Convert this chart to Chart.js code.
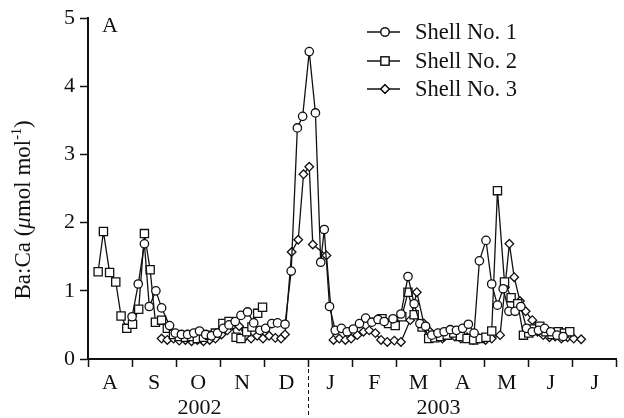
<!DOCTYPE html>
<html><head><meta charset="utf-8">
<script src="https://cdn.jsdelivr.net/npm/chart.js@4"></script>
<style>html,body{margin:0;padding:0;background:#fff}#wrap{width:624px;height:418px}</style>
</head><body><div id="wrap"><canvas id="c" width="624" height="418"></canvas></div>
<script>
// x values: months since 1 Aug 2002
const monthLabels = ['A','S','O','N','D','J','F','M','A','M','J','J'];
const yearLabels = ['2002','2003'];
const yearPositions = [2.53, 7.95];
const yearBoundary = 5;
const yTicks = [0,1,2,3,4,5];
const seriesNames = ['Shell No. 1','Shell No. 2','Shell No. 3'];
const yTitleParts = [['Ba:Ca (', 'n'], ['μ', 'i'], ['mol mol', 'n'], ['-1', 's'], [')', 'n']];

const shell1X = [1.00,1.14,1.28,1.39,1.54,1.67,1.85,1.98,2.12,2.26,2.40,2.53,2.67,2.80,2.94,3.07,3.20,3.34,3.47,3.62,3.76,3.90,4.03,4.17,4.30,4.47,4.61,4.75,4.87,5.02,5.16,5.28,5.36,5.48,5.61,5.75,5.88,6.02,6.16,6.30,6.44,6.58,6.72,6.92,7.10,7.26,7.40,7.53,7.66,7.80,7.94,8.08,8.22,8.36,8.50,8.63,8.76,8.88,9.03,9.16,9.29,9.42,9.55,9.69,9.82,9.95,10.08,10.22,10.36,10.50,10.64,10.78];
const shell1Y = [0.62,1.10,1.69,0.77,1.00,0.75,0.49,0.38,0.36,0.36,0.38,0.41,0.36,0.34,0.38,0.45,0.50,0.55,0.64,0.69,0.53,0.42,0.45,0.52,0.53,0.51,1.29,3.39,3.56,4.51,3.61,1.42,1.90,0.77,0.42,0.45,0.40,0.44,0.52,0.60,0.54,0.58,0.55,0.59,0.66,1.21,0.81,0.52,0.48,0.35,0.38,0.40,0.43,0.42,0.45,0.51,0.38,1.44,1.74,1.10,0.79,1.03,0.70,0.70,0.77,0.45,0.40,0.42,0.45,0.40,0.35,0.33];

const shell2X = [0.23,0.35,0.49,0.63,0.75,0.88,1.01,1.15,1.28,1.41,1.53,1.67,1.80,1.94,2.07,2.21,2.35,2.48,2.62,2.76,2.89,3.06,3.20,3.36,3.47,3.60,3.72,3.85,3.96,5.00,6.67,6.82,6.97,7.12,7.26,7.40,7.58,7.73,7.87,8.00,8.15,8.30,8.45,8.60,8.75,8.90,9.03,9.16,9.29,9.45,9.60,9.75,9.88,10.00,10.12,10.25,10.39,10.53,10.67,10.81,10.93];
const shell2Y = [1.28,1.87,1.27,1.13,0.63,0.45,0.51,0.73,1.84,1.31,0.54,0.57,0.45,0.36,0.33,0.32,0.33,0.30,0.32,0.35,0.38,0.52,0.55,0.32,0.30,0.40,0.47,0.67,0.76,null,0.59,0.52,0.49,0.62,0.98,0.65,0.47,0.30,0.31,0.33,0.35,0.38,0.33,0.30,0.28,0.30,0.32,0.41,2.47,1.13,0.90,0.81,0.35,0.38,0.44,0.48,0.40,0.36,0.40,0.38,0.40];

const shell3X = [1.67,1.80,1.94,2.07,2.21,2.35,2.48,2.62,2.76,2.89,3.03,3.16,3.30,3.43,3.57,3.70,3.84,3.97,4.11,4.25,4.38,4.47,4.62,4.77,4.89,5.02,5.10,5.41,5.57,5.70,5.84,5.97,6.11,6.25,6.38,6.52,6.65,6.79,6.95,7.10,7.31,7.46,7.62,7.76,7.90,8.04,8.18,8.32,8.46,8.60,8.74,8.88,9.02,9.16,9.35,9.46,9.56,9.67,9.80,9.93,10.08,10.20,10.33,10.47,10.60,10.74,10.88,11.02,11.19];
const shell3Y = [0.30,0.28,0.30,0.27,0.28,0.26,0.28,0.26,0.28,0.30,0.36,0.42,0.50,0.48,0.33,0.30,0.34,0.30,0.34,0.31,0.30,0.36,1.57,1.75,2.71,2.82,1.68,1.52,0.28,0.30,0.28,0.30,0.35,0.40,0.42,0.38,0.28,0.25,0.27,0.25,0.57,0.98,0.52,0.40,0.33,0.30,0.35,0.33,0.30,0.32,0.28,0.30,0.28,0.30,0.35,1.05,1.69,1.20,0.85,0.70,0.57,0.40,0.35,0.32,0.33,0.30,0.32,0.30,0.29];

const FONT = 'Liberation Serif, "Times New Roman", serif';
const FS = 22;
const toPts = (xs, ys) => xs.map((x, i) => ({x: x, y: ys[i]}));

const styleFor = (style, r) => ({
  borderColor: '#111', backgroundColor: '#fff', borderWidth: 1.3,
  pointStyle: style, pointRadius: r, pointBorderWidth: 1.3,
  pointBackgroundColor: '#fff', pointBorderColor: '#111',
  tension: 0, spanGaps: false, fill: false
});

const extras = {
  id: 'extras',
  afterDraw(chart) {
    const ctx = chart.ctx;
    const xs = chart.scales.x;
    ctx.save();
    // year boundary dashed line
    const px = Math.round(xs.getPixelForValue(yearBoundary)) + 0.5;
    ctx.strokeStyle = '#111'; ctx.lineWidth = 1; ctx.setLineDash([4, 3]);
    ctx.beginPath(); ctx.moveTo(px, xs.top + 3); ctx.lineTo(px, chart.height); ctx.stroke();
    ctx.setLineDash([]);
    // panel label
    ctx.fillStyle = '#111'; ctx.font = FS + 'px ' + FONT;
    ctx.textAlign = 'left'; ctx.textBaseline = 'middle';
    ctx.fillText('A', 102, 26);
    // y-axis title with italic mu and superscript
    const fonts = {n: '23px ' + FONT, i: 'italic 23px ' + FONT, s: '14px ' + FONT};
    let total = 0;
    yTitleParts.forEach(p => { ctx.font = fonts[p[1]]; total += ctx.measureText(p[0]).width; });
    ctx.save();
    ctx.translate(30, 210);
    ctx.rotate(-Math.PI / 2);
    ctx.textAlign = 'left'; ctx.textBaseline = 'alphabetic';
    let cx = -total / 2;
    yTitleParts.forEach(p => {
      ctx.font = fonts[p[1]];
      ctx.fillText(p[0], cx, p[1] === 's' ? -9 : 0);
      cx += ctx.measureText(p[0]).width;
    });
    ctx.restore();
    // legend
    const rows = [32, 61, 89];
    chart.data.datasets.forEach((ds, i) => {
      const y = rows[i];
      ctx.strokeStyle = '#111'; ctx.lineWidth = 1.3;
      ctx.beginPath(); ctx.moveTo(367, y); ctx.lineTo(400, y); ctx.stroke();
      ctx.fillStyle = '#fff';
      Chart.helpers.drawPoint(ctx, {pointStyle: ds.pointStyle, radius: ds.pointRadius, borderWidth: 1.3, rotation: 0}, 385, y);
      ctx.fill(); ctx.stroke();
      ctx.fillStyle = '#111'; ctx.font = (FS + 0.5) + 'px ' + FONT;
      ctx.textAlign = 'left'; ctx.textBaseline = 'middle';
      ctx.fillText(ds.label, 415, y + 1);
    });
    ctx.restore();
  }
};

new Chart(document.getElementById('c'), {
  type: 'line',
  data: {
    datasets: [
      Object.assign({label: seriesNames[0], data: toPts(shell1X, shell1Y)}, styleFor('circle', 4.2)),
      Object.assign({label: seriesNames[1], data: toPts(shell2X, shell2Y)}, styleFor('rect', 5.8)),
      Object.assign({label: seriesNames[2], data: toPts(shell3X, shell3Y)}, styleFor('rectRot', 4.3))
    ]
  },
  options: {
    responsive: false, animation: false, devicePixelRatio: 1,
    layout: {padding: {top: 15, right: 5, left: 0, bottom: 0}},
    plugins: {legend: {display: false}, tooltip: {enabled: false}},
    scales: {
      x: {
        type: 'linear', position: 'bottom', min: 0, max: 12, weight: 0,
        afterBuildTicks: s => { const t = []; for (let v = 0; v <= 24; v++) t.push({value: v / 2}); s.ticks = t; },
        afterFit: s => { s.height = 34; },
        ticks: {
          autoSkip: false, maxRotation: 0, padding: 3, color: '#111',
          font: {family: FONT, size: FS},
          callback: v => (Math.abs(v % 1 - 0.5) < 1e-6) ? monthLabels[Math.floor(v)] : ''
        },
        grid: {
          drawOnChartArea: false, drawTicks: true, tickLength: 8, tickWidth: 1.5,
          tickColor: c => (c.tick && Math.abs(c.tick.value % 1) < 1e-6) ? '#111' : 'rgba(0,0,0,0)'
        },
        border: {display: true, color: '#111', width: 2}
      },
      x2: {
        type: 'linear', position: 'bottom', min: 0, max: 12, weight: 1,
        afterBuildTicks: s => { s.ticks = yearPositions.map(v => ({value: v})); },
        afterFit: s => { s.height = 25; },
        ticks: {
          autoSkip: false, maxRotation: 0, padding: 2, color: '#111',
          font: {family: FONT, size: FS},
          callback: (v, i) => yearLabels[i]
        },
        grid: {display: false, drawTicks: false},
        border: {display: false}
      },
      y: {
        type: 'linear', min: 0, max: 5,
        afterBuildTicks: s => { s.ticks = yTicks.map(v => ({value: v})); },
        afterFit: s => { s.width = 88; },
        ticks: {padding: 5, color: '#111', font: {family: FONT, size: FS}},
        grid: {drawOnChartArea: false, drawTicks: true, tickLength: 8, tickWidth: 1.5, tickColor: '#111'},
        border: {display: true, color: '#111', width: 2}
      }
    }
  },
  plugins: [extras]
});
</script></body></html>
